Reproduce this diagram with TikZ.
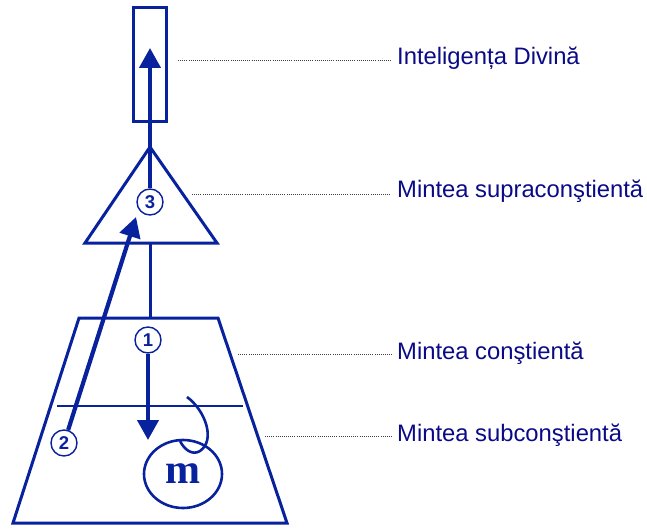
\documentclass[tikz,border=0pt]{standalone}
\usepackage{fontspec}
\setmainfont{Liberation Sans}
\newfontfamily\mserif{Liberation Serif}
\usetikzlibrary{arrows.meta,shapes.geometric}
\definecolor{dblue}{RGB}{8,34,158}
\definecolor{tblue}{RGB}{10,10,135}
\begin{document}
\begin{tikzpicture}[x=1pt,y=-1pt,
  outline/.style={draw=dblue, line width=3pt, line join=miter},
  num/.style={circle, draw=dblue, line width=1.4pt, fill=white, minimum size=26pt, inner sep=0pt,
    font=\fontsize{18.5}{18.5}\selectfont\bfseries, text=dblue},
  lbl/.style={anchor=base west, text=tblue, font=\fontsize{23.8}{24}\selectfont, inner sep=0pt},
  leader/.style={draw=black!75, line width=0.8pt, dash pattern=on 0.8pt off 1.3pt},
  flow/.style={draw=dblue, line width=4.2pt, -{Triangle[length=20pt,width=21pt]}},
  curl/.style={draw=dblue, line width=2.6pt}]
\useasboundingbox (0,0) rectangle (647,529);
% shapes
\draw[outline] (133,8) rectangle (166,122);
\coordinate (apex) at (150,147);
\coordinate (tbl) at (85,243);
\coordinate (tbr) at (217,243);
\coordinate (tbm) at (150,243);
\draw[outline] (apex) -- (tbr) -- (tbl) -- cycle;
\coordinate (ztl) at (79,318);
\coordinate (ztr) at (218,318);
\coordinate (zbr) at (287,523);
\coordinate (zbl) at (13,523);
\coordinate (ztm) at (150,318);
\draw[outline] (ztl) -- (ztr) -- (zbr) -- (zbl) -- cycle;
\draw[outline] (tbm) -- (ztm);
\coordinate (dl) at (57,406);
\coordinate (dr) at (243,406);
\draw[outline, line width=2.6pt] (dl) -- (dr);
% m circle
\node[ellipse, draw=dblue, line width=2.6pt, minimum width=78pt, minimum height=68pt, inner sep=0pt,
  text=dblue, font=\mserif\bfseries\fontsize{42}{42}\selectfont] (m) at (183,474) {m};
\draw[curl] (187,397) .. controls (205,410) and (216,440) .. (200,451)
  .. controls (192,456) and (184,449) .. (180,441);
% numbered circles
\node[num] (c1) at (148,340) {1};
\node[num] (c2) at (64,443) {2};
\node[num] (c3) at (150,202) {3};
\coordinate (t1) at (148,440);
\coordinate (t2) at (136,217);
\coordinate (t3) at (150,48);
\draw[flow] (c1) -- (t1);
\draw[flow] (c2) -- (t2);
\draw[flow] (c3) -- (t3);
% labels
\node[lbl] (l1) at (397,65) {Inteligența Divină};
\node[lbl] (l2) at (397,198) {Mintea supraconştientă};
\node[lbl] (l3) at (397,359) {Mintea conştientă};
\node[lbl] (l4) at (397,441) {Mintea subconştientă};
\coordinate (p1) at (178,60);
\coordinate (p2) at (192,194);
\coordinate (p3) at (238,354);
\coordinate (p4) at (265,436);
\draw[leader] (p1) -- ([shift={(-6,-5)}]l1.base west);
\draw[leader] (p2) -- ([shift={(-6,-4)}]l2.base west);
\draw[leader] (p3) -- ([shift={(-5,-5)}]l3.base west);
\draw[leader] (p4) -- ([shift={(-5,-5)}]l4.base west);
\end{tikzpicture}
\end{document}
